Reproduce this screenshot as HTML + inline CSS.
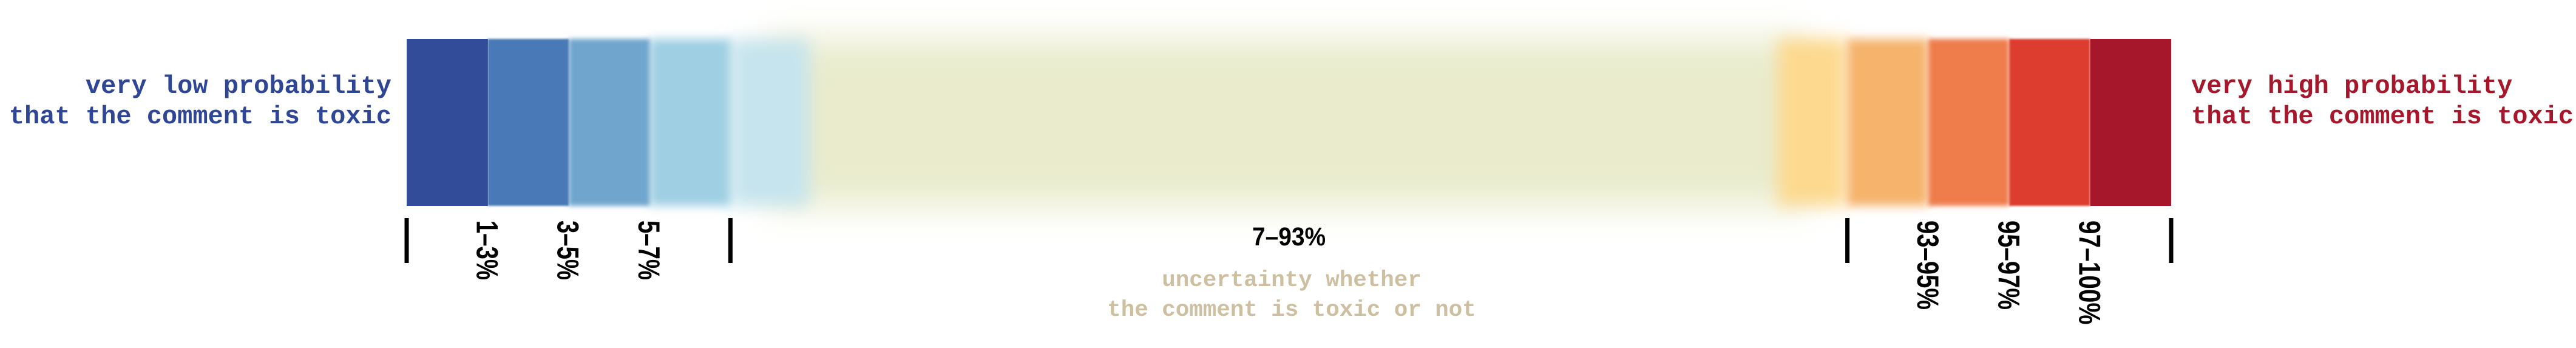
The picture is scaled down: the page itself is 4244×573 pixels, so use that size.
<!DOCTYPE html>
<html><head><meta charset="utf-8"><style>
html,body{margin:0;padding:0;background:#fff;width:4244px;height:573px;overflow:hidden}
</style></head><body>
<svg id="chart" width="4244" height="573" viewBox="0 0 4244 573" xmlns="http://www.w3.org/2000/svg">
<defs>
<filter id="b1" x="-50%" y="-50%" width="200%" height="200%"><feGaussianBlur stdDeviation="1.5"/></filter>
<filter id="b2" x="-50%" y="-50%" width="200%" height="200%"><feGaussianBlur stdDeviation="4"/></filter>
<filter id="b3" x="-50%" y="-50%" width="200%" height="200%"><feGaussianBlur stdDeviation="8"/></filter>
<filter id="b4" x="-50%" y="-50%" width="200%" height="200%"><feGaussianBlur stdDeviation="14"/></filter>
<filter id="b5" x="-20%" y="-80%" width="140%" height="260%"><feGaussianBlur stdDeviation="30"/></filter>
</defs>
<g id="bars"></g>
<g id="ticks"></g>
<g id="labels"></g>
<text font-family="Liberation Mono, monospace" font-weight="bold" font-size="42" fill="#2f4596" text-anchor="end"><tspan x="645" y="153">very low probability</tspan><tspan x="645" y="203">that the comment is toxic</tspan></text>
<text font-family="Liberation Mono, monospace" font-weight="bold" font-size="42" fill="#a6172b"><tspan x="3610" y="153">very high probability</tspan><tspan x="3610" y="203">that the comment is toxic</tspan></text>
<text font-family="Liberation Mono, monospace" font-weight="bold" font-size="37.5" fill="#cdbf9f" text-anchor="middle"><tspan x="2128" y="471">uncertainty whether</tspan><tspan x="2128" y="520">the comment is toxic or not</tspan></text>
</svg>
<script>
// band data (left to right)
const bandLabels = ["0–1%","1–3%","3–5%","5–7%","7–93%","93–95%","95–97%","97–100%","100%"];
const bandColors = ["#334c99","#4a7ab7","#6fa6cd","#9ecfe3","#e9ebcc","#f5b36c","#ee7d4b","#dc3c2d","#a6172b"];
const bandBlur = [0,1,2,3,5,3,2,1,0];
const bandUnits = [1,1,1,1,13.8,1,1,1,1];
const shownLabels = ["","1–3%","3–5%","5–7%","7–93%","93–95%","95–97%","97–100%",""];
const tickIdx = [0,4,5,9];

const X0 = 670, X1 = 3577, Y0 = 64, Y1 = 339;
const totalUnits = bandUnits.reduce((a,b)=>a+b,0);
function xAt(i){ let s=0; for(let k=0;k<i;k++) s+=bandUnits[k]; return X0 + (X1-X0)*s/totalUnits; }

const NS="http://www.w3.org/2000/svg";
const bars=document.getElementById('bars');
const order=[4,3,5,2,6,1,7,0,8];
function rect(x,w,col,blur,name){
  const r=document.createElementNS(NS,'rect');
  r.setAttribute('x',x);r.setAttribute('y',Y0);r.setAttribute('width',w);r.setAttribute('height',Y1-Y0);
  r.setAttribute('fill',col);
  if(blur) r.setAttribute('filter','url(#b'+blur+')');
  
  
  bars.appendChild(r);
}
order.forEach(i=>{
  if(i===4){
    rect(xAt(4)+60, xAt(5)-xAt(4)-120, bandColors[4], 5, 'band-7-93');
    rect(xAt(4), 130, "#c6e4ee", 4, 'band-halo-blue');
    rect(xAt(5)-115, 115, "#fdd98f", 4, 'band-halo-yellow');
    return;
  }
  rect(xAt(i), xAt(i+1)-xAt(i)+(i<4?0.5:0), bandColors[i], bandBlur[i], 'band-'+i);
});

const ticks=document.getElementById('ticks');
tickIdx.forEach(i=>{
  const t=document.createElementNS(NS,'rect');
  t.setAttribute('x',xAt(i)-3.5);t.setAttribute('y',359);t.setAttribute('width',7);t.setAttribute('height',74);
  t.setAttribute('fill','#000');
  
  
  ticks.appendChild(t);
});

const labels=document.getElementById('labels');
shownLabels.forEach((lab,i)=>{
  if(!lab) return;
  const t=document.createElementNS(NS,'text');
  t.textContent=lab;
  t.setAttribute('font-family','Liberation Sans, sans-serif');
  t.setAttribute('font-weight','bold');
  t.setAttribute('fill','#000');
  if(i===4){
    const cx=(xAt(4)+xAt(5))/2;
    t.setAttribute('x',cx);t.setAttribute('y',404);
    t.setAttribute('text-anchor','middle');
    t.setAttribute('font-size','43');
    t.setAttribute('textLength','121');
    t.setAttribute('lengthAdjust','spacingAndGlyphs');
  } else {
    const bx = xAt(i<4?i:i+1) - 18;
    t.setAttribute('transform','translate('+bx+',363) rotate(90)');
    t.setAttribute('font-size','50');
    t.setAttribute('textLength', String(lab.length*24.5));
    t.setAttribute('lengthAdjust','spacingAndGlyphs');
  }
  
  
  labels.appendChild(t);
});
</script>
</body></html>
